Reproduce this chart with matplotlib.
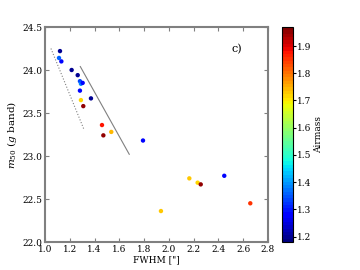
import numpy as np
import matplotlib
matplotlib.use('Agg')
import matplotlib.pyplot as plt

plt.rcParams['font.family'] = 'DejaVu Serif'
plt.rcParams['mathtext.fontset'] = 'dejavuserif'

# data
fwhm = [1.121, 1.113, 1.132, 1.215, 1.264, 1.282, 1.290, 1.304, 1.282, 1.371,
        1.290, 1.309, 1.460, 1.535, 1.471, 1.791, 1.936, 2.165, 2.232, 2.257,
        2.447, 2.657]
m50 = [24.22, 24.14, 24.10, 24.00, 23.94, 23.87, 23.84, 23.85, 23.76, 23.67,
       23.65, 23.58, 23.36, 23.28, 23.24, 23.18, 22.36, 22.74, 22.69, 22.67,
       22.77, 22.45]
airmass = [1.20, 1.36, 1.28, 1.20, 1.20, 1.33, 1.38, 1.28, 1.28, 1.20,
           1.72, 1.95, 1.88, 1.74, 1.95, 1.28, 1.73, 1.73, 1.72, 1.95,
           1.29, 1.85]

dotted_x = [1.048, 1.317]
dotted_y = [24.25, 23.30]
solid_x = [1.285, 1.68]
solid_y = [24.04, 23.02]

fig = plt.figure(figsize=(3.6, 2.7), dpi=100)
ax = fig.add_axes([45/360, 28/270, 223/360, 215/270])
cax = fig.add_axes([282/360, 28/270, 11/360, 215/270])

ax.plot(dotted_x, dotted_y, ls=':', color='gray', lw=0.8)
ax.plot(solid_x, solid_y, ls='-', color='gray', lw=0.8)
sc = ax.scatter(fwhm, m50, c=airmass, cmap=plt.get_cmap('jet', 64), vmin=1.18, vmax=1.97,
                s=10, edgecolors='none', zorder=3)

ax.set_xlim(1.0, 2.8)
ax.set_ylim(22.0, 24.5)
ax.set_xticks(np.arange(1.0, 2.81, 0.2))
ax.set_yticks(np.arange(22.0, 24.51, 0.5))
ax.tick_params(direction='in', top=True, right=True, labelsize=6.5,
               length=3, color='gray', pad=2)
for sp in ax.spines.values():
    sp.set_color('gray')
    sp.set_linewidth(1.5)
ax.set_xlabel('FWHM ["]', fontsize=6.5, labelpad=1)
ax.set_ylabel('$m_{50}$ ($g$ band)', fontsize=7.5, labelpad=2)
ax.text(2.547, 24.24, 'c)', fontsize=8, ha='center', va='center')

cb = fig.colorbar(sc, cax=cax)
cb.set_ticks([1.2, 1.3, 1.4, 1.5, 1.6, 1.7, 1.8, 1.9])
cb.ax.tick_params(labelsize=6.5, length=2, pad=1)
cb.set_label('Airmass', fontsize=6.5, labelpad=2)
cb.outline.set_linewidth(0.8)

fig.savefig('out.png', dpi=100)
